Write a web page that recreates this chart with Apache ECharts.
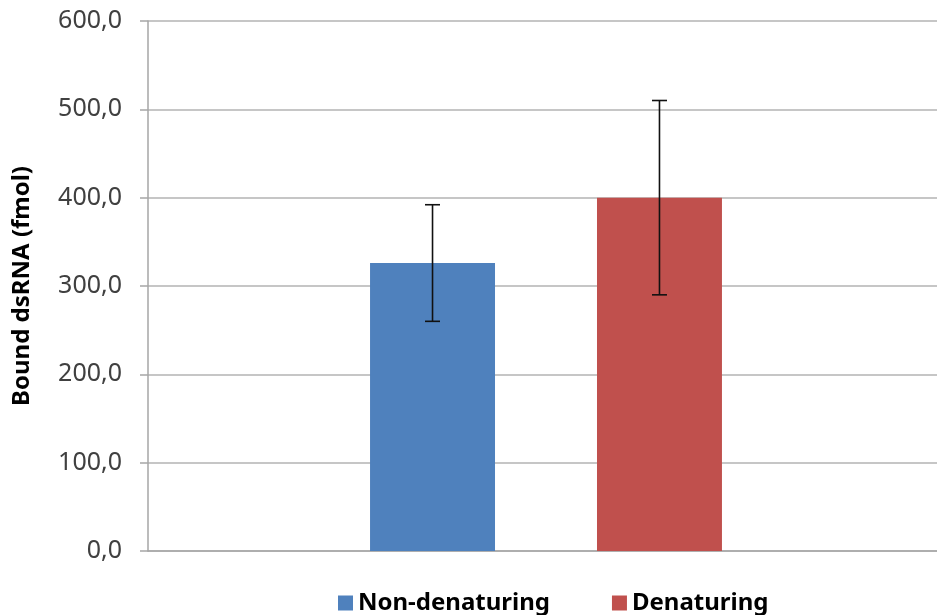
<!DOCTYPE html>
<html>
<head>
<meta charset="utf-8">
<script src="https://cdn.jsdelivr.net/npm/echarts@6/dist/echarts.min.js"></script>
<style>
html,body{margin:0;padding:0;background:#fff;}
#chart{width:937px;height:615px;}
</style>
</head>
<body>
<div id="chart"></div>
<script>
var categories = [''];
var seriesNames = ['Non-denaturing', 'Denaturing'];
var means = [326, 400];
var errors = [66, 110];
var colors = ['#4f81bd', '#c0504d'];
var yTicks = [0, 100, 200, 300, 400, 500, 600];

var BAR_W = 0.157, GAP = 0.816;

var chart = echarts.init(document.getElementById('chart'));
var series = [];
seriesNames.forEach(function (name, i) {
  series.push({
    name: name,
    type: 'bar',
    data: [means[i]],
    barWidth: (BAR_W * 100) + '%',
    barGap: (GAP * 100) + '%',
    itemStyle: { color: colors[i] },
    z: 2
  });
});
seriesNames.forEach(function (name, i) {
  series.push({
    type: 'custom',
    name: name + ' err',
    z: 5,
    silent: true,
    encode: { x: 0, y: [2, 3] },
    data: [[0, means[i], means[i] - errors[i], means[i] + errors[i]]],
    renderItem: function (params, api) {
      var band = api.size([1, 0])[0];
      var bw = BAR_W * band;
      var off = (bw + GAP * bw) / 2 * (i === 0 ? -1 : 1);
      var lo = api.coord([api.value(0), api.value(2)]);
      var hi = api.coord([api.value(0), api.value(3)]);
      var x = lo[0] + off;
      var cap = 7.5;
      var st = { stroke: '#111', lineWidth: 1.6 };
      return {
        type: 'group',
        children: [
          { type: 'line', shape: { x1: x, y1: lo[1], x2: x, y2: hi[1] }, style: st },
          { type: 'line', shape: { x1: x - cap, y1: lo[1], x2: x + cap, y2: lo[1] }, style: st },
          { type: 'line', shape: { x1: x - cap, y1: hi[1], x2: x + cap, y2: hi[1] }, style: st }
        ]
      };
    }
  });
});

chart.setOption({
  animation: false,
  grid: { left: 148, right: -7, top: 21, bottom: 64, containLabel: false, outerBoundsMode: 'none' },
  legend: {
    data: seriesNames,
    top: 586,
    left: 333,
    itemWidth: 15,
    itemHeight: 15,
    itemGap: 62,
    icon: 'rect',
    textStyle: { fontFamily: 'Noto Sans', fontWeight: 'bold', fontSize: 24, color: '#000' }
  },
  xAxis: {
    type: 'category',
    data: categories,
    axisLine: { lineStyle: { color: '#a6a6a6', width: 1.5 } },
    axisTick: { show: false },
    axisLabel: { show: false },
    splitLine: { show: false }
  },
  yAxis: {
    type: 'value',
    min: yTicks[0],
    max: yTicks[yTicks.length - 1],
    interval: 100,
    name: 'Bound dsRNA (fmol)',
    nameLocation: 'middle',
    nameGap: 114,
    nameRotate: 90,
    nameTextStyle: { fontFamily: 'Noto Sans', fontWeight: 'bold', fontSize: 24, color: '#000' },
    axisLine: { show: true, lineStyle: { color: '#a6a6a6', width: 1.5 } },
    axisTick: { show: true, length: 8, lineStyle: { color: '#a6a6a6', width: 1.5 } },
    axisLabel: {
      margin: 26,
      fontFamily: 'Noto Sans',
      fontSize: 25,
      color: '#404040',
      formatter: function (v) { return v.toFixed(1).replace('.', ','); }
    },
    splitLine: { lineStyle: { color: '#b3b3b3', width: 1.5 } }
  },
  series: series
});
</script>
</body>
</html>
